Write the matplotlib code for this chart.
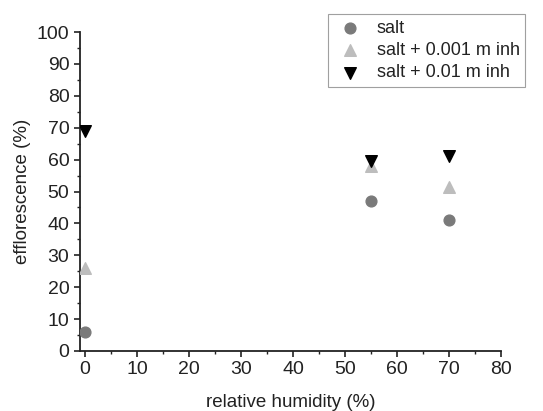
import matplotlib.pyplot as plt
from matplotlib.ticker import MultipleLocator

plt.rcParams['font.family'] = ['Liberation Sans', 'DejaVu Sans']

humidity = [0, 55, 70]
salt = [6, 47, 41]
salt_001 = [26, 58, 51.5]
salt_01 = [69, 59.5, 61]

fig = plt.figure(figsize=(5.43, 4.11), dpi=100)
ax = fig.add_axes([0.147, 0.146, 0.776, 0.776])

ax.scatter(humidity, salt, marker="o", s=60, color="#7a7a7a", label="salt", zorder=3)
ax.scatter(humidity, salt_001, marker="^", s=70, color="#bdbdbd", label="salt + 0.001 m inh", zorder=3)
ax.scatter(humidity, salt_01, marker="v", s=70, color="black", label="salt + 0.01 m inh", zorder=4)

ax.set_xlim(-1, 80)
ax.set_ylim(0, 100)
ax.xaxis.set_major_locator(MultipleLocator(10))
ax.xaxis.set_minor_locator(MultipleLocator(5))
ax.yaxis.set_major_locator(MultipleLocator(10))
ax.yaxis.set_minor_locator(MultipleLocator(5))
ax.tick_params(which="major", direction="out", length=4, width=1.2, labelsize=14, colors="#222222")
ax.tick_params(which="minor", direction="out", length=2.5, width=1.0, colors="#222222")

for side in ("top", "right"):
    ax.spines[side].set_visible(False)
for side in ("left", "bottom"):
    ax.spines[side].set_linewidth(1.3)
    ax.spines[side].set_color("#222222")

ax.set_xlabel("relative humidity (%)", fontsize=13.5, color="#222222", labelpad=11)
ax.set_ylabel("efflorescence (%)", fontsize=13.5, color="#222222", labelpad=4)

leg = ax.legend(loc="upper left", bbox_to_anchor=(0.589, 1.056), fontsize=13,
                frameon=True, fancybox=False, edgecolor="#888888",
                borderaxespad=0, handletextpad=0.6, borderpad=0.3,
                labelspacing=0.3, handlelength=1.8)
leg.get_frame().set_linewidth(0.8)
for t in leg.get_texts():
    t.set_color("#222222")

fig.savefig("out.png", dpi=100)
